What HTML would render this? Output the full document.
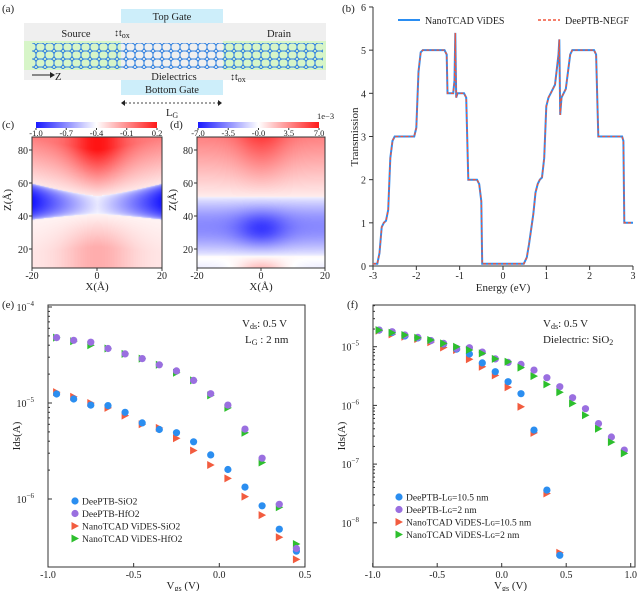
<!DOCTYPE html>
<html><head><meta charset="utf-8">
<style>
body{margin:0;background:#fff;}
#wrap{position:relative;width:640px;height:591px;overflow:hidden;font-family:"Liberation Serif",serif;}
svg{position:absolute;left:0;top:0;}
canvas{position:absolute;}
text{font-family:"Liberation Serif",serif;fill:#222;}
</style></head>
<body>
<div id="wrap">
<canvas id="hc" width="130" height="131" style="left:32px;top:137px"></canvas>
<canvas id="hd" width="128" height="131" style="left:197px;top:137px"></canvas>
<svg id="s" width="640" height="591">
<defs>
<pattern id="hex" x="0" y="43" width="9" height="8" patternUnits="userSpaceOnUse">
<path d="M0,2 L2.2,0 L6.7,0 L9,2 M2.2,0 L2.2,0 M0,2 L0,6 L2.2,8 L6.7,8 L9,6 L9,2" fill="none" stroke="#2f7fe0" stroke-width="1"/>
<circle cx="2.2" cy="0" r="0.9" fill="#2f7fe0"/><circle cx="6.7" cy="0" r="0.9" fill="#2f7fe0"/>
<circle cx="0" cy="2" r="0.9" fill="#2f7fe0"/><circle cx="9" cy="2" r="0.9" fill="#2f7fe0"/>
<circle cx="0" cy="6" r="0.9" fill="#2f7fe0"/><circle cx="9" cy="6" r="0.9" fill="#2f7fe0"/>
</pattern>
<linearGradient id="cbar" x1="0" x2="1"><stop offset="0" stop-color="#1a1aff"/><stop offset="0.5" stop-color="#fff"/><stop offset="1" stop-color="#ff1a1a"/></linearGradient>
</defs>
<!-- panel a -->
<g>
<text x="2" y="12" font-size="11">(a)</text>
<rect x="24" y="23" width="302" height="57" fill="#efefef"/>
<rect x="121" y="9" width="102" height="14" fill="#cdeefa"/>
<rect x="121" y="80" width="102" height="15" fill="#cdeefa"/>
<rect x="24" y="41" width="97" height="29" fill="#d7f5c8"/>
<rect x="223" y="41" width="103" height="29" fill="#d7f5c8"/>
<rect x="32" y="43" width="291" height="26" fill="url(#hex)"/>
<text x="172" y="20" font-size="10.5" text-anchor="middle">Top Gate</text>
<text x="172" y="93" font-size="10.5" text-anchor="middle">Bottom Gate</text>
<text x="76" y="37" font-size="10.5" text-anchor="middle">Source</text>
<text x="279" y="37" font-size="10.5" text-anchor="middle">Drain</text>
<text x="174" y="80" font-size="10.5" text-anchor="middle">Dielectrics</text>
<text x="114" y="36" font-size="10">↕t<tspan font-size="8" dy="2">ox</tspan></text>
<text x="230" y="80" font-size="10">↕t<tspan font-size="8" dy="2">ox</tspan></text>
<line x1="32" y1="75" x2="50" y2="75" stroke="#222"/><path d="M50,72 L55,75 L50,78Z" fill="#222"/>
<text x="55" y="80" font-size="10.5">Z</text>
<line x1="125" y1="103" x2="218" y2="103" stroke="#444" stroke-dasharray="2,2"/>
<path d="M125,100 L121,103 L125,106Z M218,100 L222,103 L218,106Z" fill="#222"/>
<text x="166" y="116" font-size="10.5">L<tspan font-size="8" dy="2">G</tspan></text>
</g>
<g id="pb"></g>
<g id="pc"></g>
<g id="pe"></g>
<g id="pf"></g>
</svg>
</div>
<script>
// ---- panel (b) data ----
const bEnergy=[-3,-2.9,-2.85,-2.8,-2.75,-2.7,-2.65,-2.6,-2.55,-2.5,-2.05,-2.0,-1.95,-1.9,-1.85,-1.35,-1.3,-1.28,-1.15,-1.12,-1.1,-1.08,-1.05,-0.9,-0.85,-0.8,-0.6,-0.55,-0.5,-0.48,0.48,0.55,0.6,0.7,0.75,0.8,0.85,0.9,0.95,1.0,1.05,1.1,1.2,1.28,1.3,1.32,1.35,1.45,1.5,1.55,1.6,2.1,2.15,2.2,2.75,2.78,2.8,3.0];
const bTrans=[0.05,0.05,0.3,0.9,1.0,1.05,1.3,2.5,2.9,3.0,3.0,3.2,4.5,4.95,5.0,5.0,4.9,4.0,4.0,4.3,5.4,3.9,4.0,4.0,3.9,2.0,2.0,1.9,1.5,0.05,0.05,0.2,0.5,1.2,1.7,1.9,2.0,2.05,2.5,3.7,3.9,4.0,4.2,4.9,5.25,3.5,3.9,4.1,4.5,4.9,5.0,5.0,4.9,3.0,3.0,2.9,1.0,1.0];
const bXTicks=[-3,-2,-1,0,1,2,3];
const bYTicks=[0,1,2,3,4,5,6];
// ---- panel (e) data ----
const eVgs=[-0.95,-0.85,-0.75,-0.65,-0.55,-0.45,-0.35,-0.25,-0.15,-0.05,0.05,0.15,0.25,0.35,0.45];
const eDeepSiO2=[1.24e-5,1.1e-5,9.5e-6,9.4e-6,8.0e-6,6.2e-6,5.3e-6,4.9e-6,3.94e-6,2.88e-6,2.03e-6,1.33e-6,8.5e-7,4.85e-7,2.86e-7];
const eDeepHfO2=[4.8e-5,4.5e-5,4.3e-5,3.7e-5,3.25e-5,2.9e-5,2.5e-5,2.16e-5,1.72e-5,1.25e-5,9.5e-6,5.35e-6,2.66e-6,8.8e-7,3.05e-7];
const eVidSiO2=[1.3e-5,1.16e-5,1.0e-5,8.9e-6,7.4e-6,6.0e-6,5.5e-6,4.3e-6,3.2e-6,2.26e-6,1.64e-6,1.06e-6,6.8e-7,4.0e-7,2.35e-7];
const eVidHfO2=[4.8e-5,4.4e-5,4.0e-5,3.7e-5,3.25e-5,2.9e-5,2.5e-5,2.07e-5,1.72e-5,1.2e-5,8.9e-6,4.9e-6,2.4e-6,8.2e-7,3.4e-7];
const eXTicks=[-1.0,-0.5,0.0,0.5];
const eYExp=[-4,-5,-6];
// ---- panel (f) data ----
const fVgs2=[-0.95,-0.85,-0.75,-0.65,-0.55,-0.45,-0.35,-0.25,-0.15,-0.05,0.05,0.15,0.25,0.35,0.45,0.55,0.65,0.75,0.85,0.95];
const fVgs10=[-0.95,-0.85,-0.75,-0.65,-0.55,-0.45,-0.35,-0.25,-0.15,-0.05,0.05,0.15,0.25,0.35,0.45];
const fDeep10=[1.92e-5,1.75e-5,1.52e-5,1.41e-5,1.27e-5,1.11e-5,9.1e-6,7.5e-6,5.3e-6,3.75e-6,2.53e-6,1.58e-6,3.8e-7,3.6e-8,2.8e-9];
const fDeep2=[1.92e-5,1.8e-5,1.58e-5,1.44e-5,1.27e-5,1.14e-5,9.4e-6,9.6e-6,8.1e-6,6.2e-6,5.4e-6,5.0e-6,4.0e-6,2.96e-6,2.08e-6,1.35e-6,8.8e-7,4.9e-7,2.9e-7,1.73e-7];
const fVid10=[1.87e-5,1.62e-5,1.48e-5,1.35e-5,1.19e-5,9.7e-6,8.8e-6,6.1e-6,4.56e-6,3.25e-6,2.03e-6,9.5e-7,3.4e-7,3.16e-8,3.1e-9];
const fVid2=[1.92e-5,1.73e-5,1.58e-5,1.42e-5,1.3e-5,1.14e-5,1.0e-5,8.8e-6,7.7e-6,6.2e-6,5.55e-6,4.4e-6,3.16e-6,2.28e-6,1.67e-6,1.08e-6,6.8e-7,4.0e-7,2.37e-7,1.52e-7];
const fXTicks=[-1.0,-0.5,0.0,0.5,1.0];
const fYExp=[-5,-6,-7,-8];

const NS="http://www.w3.org/2000/svg";
function mk(parent,tag,attrs,txt){const e=document.createElementNS(NS,tag);for(const k in attrs)e.setAttribute(k,attrs[k]);if(txt!==undefined)e.textContent=txt;parent.appendChild(e);return e;}
const COL={blue:"#2b8ef0",purple:"#9a6fe0",red:"#f25c3f",green:"#2dbf2d"};

// ---- (b) ----
(function(){
const g=document.getElementById('pb');
const X=e=>373+(e+3)*43.33, Y=t=>266-t*43.17;
mk(g,'text',{x:342,y:12,'font-size':11},'(b)');
mk(g,'line',{x1:373,y1:7,x2:373,y2:266,stroke:'#333'});
mk(g,'line',{x1:373,y1:266,x2:633,y2:266,stroke:'#333'});
bXTicks.forEach(v=>{mk(g,'line',{x1:X(v),y1:266,x2:X(v),y2:270,stroke:'#333'});const t=mk(g,'text',{x:X(v),y:279,'font-size':10,'text-anchor':'middle'},v);});
bYTicks.forEach(v=>{mk(g,'line',{x1:369,y1:Y(v),x2:373,y2:Y(v),stroke:'#333'});mk(g,'text',{x:366,y:Y(v)+4,'font-size':10,'text-anchor':'end'},v);});
mk(g,'text',{x:503,y:291,'font-size':11,'text-anchor':'middle'},'Energy (eV)');
mk(g,'text',{x:0,y:0,'font-size':11,'text-anchor':'middle',transform:'translate(358,137) rotate(-90)'},'Transmission');
const pts=bEnergy.map((e,i)=>X(e).toFixed(1)+','+Y(bTrans[i]).toFixed(1)).join(' ');
const l1=mk(g,'polyline',{points:pts,fill:'none',stroke:'#2a8df2','stroke-width':2});

const l2=mk(g,'polyline',{points:pts,fill:'none',stroke:'#f0553c','stroke-width':1.3,'stroke-dasharray':'3,2'});

mk(g,'line',{x1:398,y1:20,x2:420,y2:20,stroke:'#2a8df2','stroke-width':2});
mk(g,'text',{x:425,y:24,'font-size':10},'NanoTCAD ViDES');
mk(g,'line',{x1:538,y1:20,x2:560,y2:20,stroke:'#f0553c','stroke-width':1.5,'stroke-dasharray':'3,2'});
mk(g,'text',{x:565,y:24,'font-size':10},'DeePTB-NEGF');
})();

// ---- (c)(d) axes ----
(function(){
const g=document.getElementById('pc');
function frame(x0,x1,lab,cbx0,cbx1,ticks,sci){
 mk(g,'text',{x:lab[0],y:lab[1],'font-size':11},lab[2]);
 mk(g,'rect',{x:cbx0,y:122,width:cbx1-cbx0,height:6,fill:'url(#cbar)'});
 ticks.forEach((t,i)=>{const x=cbx0+(cbx1-cbx0)*i/(ticks.length-1);mk(g,'line',{x1:x,y1:128,x2:x,y2:130,stroke:'#333'});mk(g,'text',{x:x,y:136,'font-size':8.5,'text-anchor':'middle'},t);});
 if(sci)mk(g,'text',{x:cbx1-2,y:119,'font-size':8.5},'1e−3');
 mk(g,'rect',{x:x0,y:137,width:x1-x0,height:131,fill:'none',stroke:'#333'});
 const X=v=>x0+(v+20)/40*(x1-x0);
 [-20,0,20].forEach(v=>{mk(g,'line',{x1:X(v),y1:268,x2:X(v),y2:271,stroke:'#333'});mk(g,'text',{x:X(v),y:279,'font-size':10,'text-anchor':'middle'},v);});
 [20,40,60,80].forEach(v=>{const y=249-(v-20)*1.65;mk(g,'line',{x1:x0-3,y1:y,x2:x0,y2:y,stroke:'#333'});mk(g,'text',{x:x0-4,y:y+4,'font-size':10,'text-anchor':'end'},v);});
 mk(g,'text',{x:(x0+x1)/2,y:290,'font-size':11,'text-anchor':'middle'},'X(Å)');
 mk(g,'text',{x:0,y:0,'font-size':11,'text-anchor':'middle',transform:'translate('+(x0-21)+',200) rotate(-90)'},'Z(Å)');
}
frame(32,162,[2,128,'(c)'],36,157,['-1.0','-0.7','-0.4','-0.1','0.2'],false);
frame(197,325,[170,128,'(d)'],198,319,['-7.0','-3.5','-0.0','3.5','7.0'],true);
})();
function col(t){t=Math.max(-1,Math.min(1,t));if(t<0){const k=1+t;return [Math.round(20+235*k),Math.round(20+235*k),255];}const k=1-t;return [255,Math.round(20+235*k),Math.round(20+235*k)];}
function paint(id,f){const c=document.getElementById(id),ctx=c.getContext('2d'),W=c.width,H=c.height,im=ctx.createImageData(W,H);
for(let j=0;j<H;j++){const z=87.9-(j/H)*(87.9-8.5);for(let i=0;i<W;i++){const x=-20+40*i/W;const [r,g,b]=col(f(x,z));const p=(j*W+i)*4;im.data[p]=r;im.data[p+1]=g;im.data[p+2]=b;im.data[p+3]=255;}}ctx.putImageData(im,0,0);}
paint('hc',(x,z)=>{const a=Math.abs(x)/20;const zu=52.5+7.5*Math.pow(a,1.3),zl=41.5-3.5*Math.pow(a,1.3);
 if(z>zu){const s=Math.min(1,(z-zu)/28);return 0.1+0.45*s+0.45*s*Math.exp(-x*x/70);}
 if(z<zl){const s=Math.min(1,(zl-z)/20);return 0.05+0.25*s*Math.exp(-x*x/120)+0.05*s;}
 const m=Math.sin(Math.PI*(z-zl)/(zu-zl));return -(0.1+0.9*Math.pow(a,1.1))*Math.pow(m,0.35);});
paint('hd',(x,z)=>{const c=Math.exp(-x*x/60);
 if(z>52){const s=Math.min(1,(z-52)/36);return 0.08+0.45*s+0.3*s*c;}
 if(z>16){const m=Math.sin(Math.PI*(z-16)/36);const w=Math.exp(-Math.pow((z-32)/12,2));return -(0.25+0.25*m+0.35*w*c)*Math.pow(m,0.4);}
 const s=(16-z)/8;return 0.02+0.3*s*c-0.1*s*(1-c);});

// ---- scatter helper ----
function marker(g,type,x,y,color,name){let e;
 if(type==='c')e=mk(g,'circle',{cx:x.toFixed(1),cy:y.toFixed(1),r:3.6,fill:color});
 else e=mk(g,'path',{d:`M${(x-3.5).toFixed(1)},${(y-4).toFixed(1)} L${(x+4).toFixed(1)},${y.toFixed(1)} L${(x-3.5).toFixed(1)},${(y+4).toFixed(1)}Z`,fill:color});
 }
function logAxes(g,box,X,Y,xt,ye,xlab){
 mk(g,'rect',{x:box[0],y:box[1],width:box[2]-box[0],height:box[3]-box[1],fill:'none',stroke:'#333'});
 xt.forEach(v=>{mk(g,'line',{x1:X(v),y1:box[3],x2:X(v),y2:box[3]-4,stroke:'#333'});mk(g,'text',{x:X(v),y:box[3]+11,'font-size':10,'text-anchor':'middle'},v.toFixed(1));});
 ye.forEach(p=>{const y=Y(Math.pow(10,p));mk(g,'line',{x1:box[0],y1:y,x2:box[0]+4,y2:y,stroke:'#333'});
  for(let k=2;k<10;k++){const yy=Y(k*Math.pow(10,p));if(yy>box[1]&&yy<box[3])mk(g,'line',{x1:box[0],y1:yy,x2:box[0]+2,y2:yy,stroke:'#333'});}
  const t=mk(g,'text',{x:box[0]-14,y:y+4,'font-size':10,'text-anchor':'end'},'10');mk(t,'tspan',{dy:-5,'font-size':7},'−'+(-p));});
 mk(g,'text',{x:(box[0]+box[2])/2,y:box[3]+23,'font-size':11,'text-anchor':'middle'},'');
 const t=mk(g,'text',{x:(box[0]+box[2])/2-10,y:box[3]+22,'font-size':11},'V');mk(t,'tspan',{'font-size':8,dy:2},'gs');mk(t,'tspan',{dy:-2},' (V)');
 const yl=mk(g,'text',{x:0,y:0,'font-size':11,'text-anchor':'middle',transform:`translate(${box[0]-28},${(box[1]+box[3])/2}) rotate(-90)`},'Ids(A)');
}
function legend(g,x,y,items){items.forEach((it,i)=>{marker(g,it[0],x,y+i*12.5,it[1],'legend-marker');mk(g,'text',{x:x+7,y:y+i*12.5+3.5,'font-size':9.5},it[2]);});}

// ---- (e) ----
(function(){
const g=document.getElementById('pe');
const X=v=>48+(v+1)*171.3, Y=v=>403-(Math.log10(v)+5)*96;
mk(g,'text',{x:2,y:308,'font-size':11},'(e)');
logAxes(g,[48,305,305,567],X,Y,eXTicks,eYExp);
eVgs.forEach((v,i)=>{marker(g,'t',X(v),Y(eVidSiO2[i]),COL.red,'vides-sio2-point');marker(g,'t',X(v),Y(eVidHfO2[i]),COL.green,'vides-hfo2-point');marker(g,'c',X(v),Y(eDeepSiO2[i]),COL.blue,'deeptb-sio2-point');marker(g,'c',X(v),Y(eDeepHfO2[i]),COL.purple,'deeptb-hfo2-point');});
let t=mk(g,'text',{x:242,y:327,'font-size':11},'V');mk(t,'tspan',{'font-size':8,dy:2},'ds');mk(t,'tspan',{dy:-2},': 0.5 V');
t=mk(g,'text',{x:245,y:343,'font-size':11},'L');mk(t,'tspan',{'font-size':8,dy:2},'G');mk(t,'tspan',{dy:-2},' : 2 nm');
legend(g,75,501,[['c',COL.blue,'DeePTB-SiO2'],['c',COL.purple,'DeePTB-HfO2'],['t',COL.red,'NanoTCAD ViDES-SiO2'],['t',COL.green,'NanoTCAD ViDES-HfO2']]);
})();
// ---- (f) ----
(function(){
const g=document.getElementById('pf');
const X=v=>372.7+(v+1)*129, Y=v=>346.7-(Math.log10(v)+5)*58.7;
mk(g,'text',{x:347,y:308,'font-size':11},'(f)');
logAxes(g,[373,305,635,567],X,Y,fXTicks,fYExp);
fVgs10.forEach((v,i)=>{marker(g,'t',X(v),Y(fVid10[i]),COL.red,'vides-lg10-point');marker(g,'c',X(v),Y(fDeep10[i]),COL.blue,'deeptb-lg10-point');});
fVgs2.forEach((v,i)=>{marker(g,'c',X(v),Y(fDeep2[i]),COL.purple,'deeptb-lg2-point');marker(g,'t',X(v),Y(fVid2[i]),COL.green,'vides-lg2-point');});
let t=mk(g,'text',{x:543,y:327,'font-size':11},'V');mk(t,'tspan',{'font-size':8,dy:2},'ds');mk(t,'tspan',{dy:-2},': 0.5 V');
t=mk(g,'text',{x:543,y:343,'font-size':11},'Dielectric: SiO');mk(t,'tspan',{'font-size':8,dy:2},'2');
legend(g,399,497,[['c',COL.blue,'DeePTB-Lɢ=10.5 nm'],['c',COL.purple,'DeePTB-Lɢ=2 nm'],['t',COL.red,'NanoTCAD ViDES-Lɢ=10.5 nm'],['t',COL.green,'NanoTCAD ViDES-Lɢ=2 nm']]);
})();
</script>
</body></html>
